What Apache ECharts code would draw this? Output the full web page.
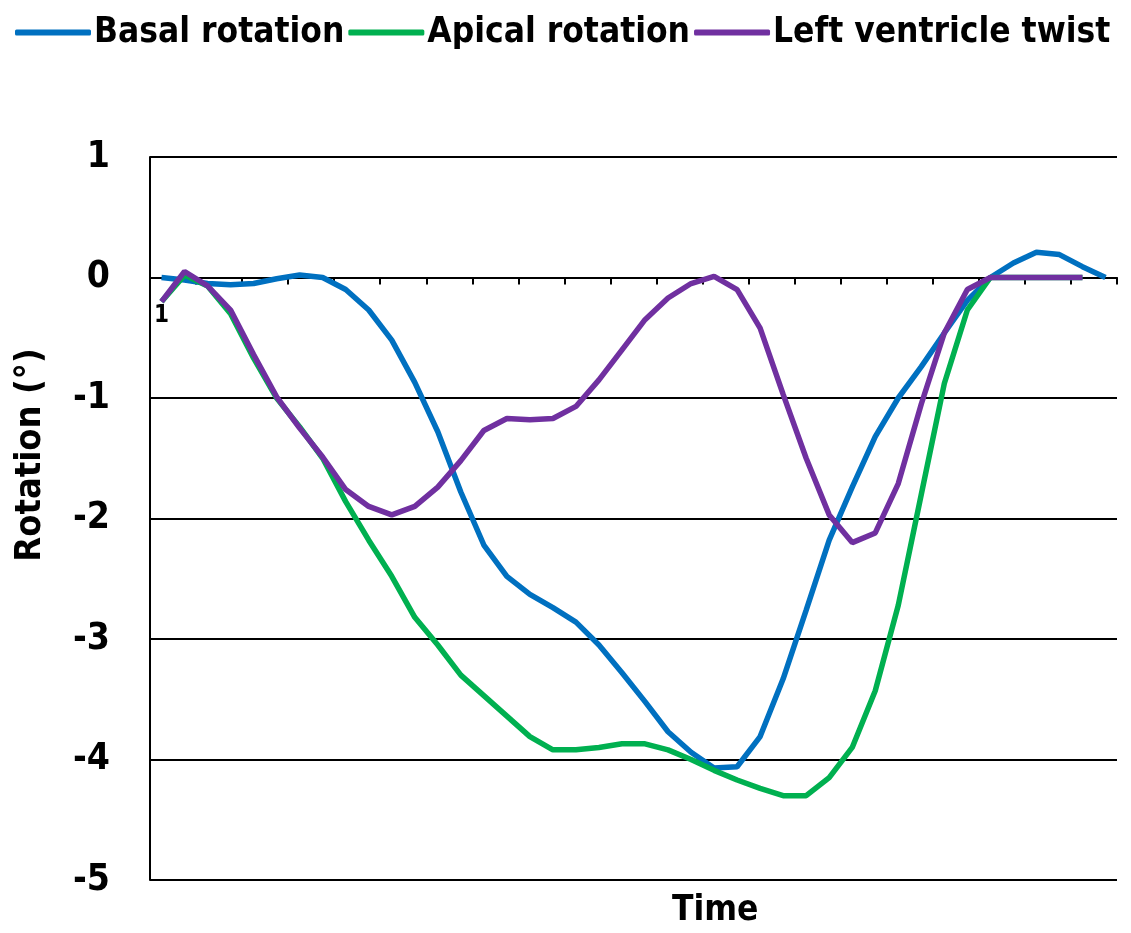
<!DOCTYPE html>
<html>
<head>
<meta charset="utf-8">
<script src="https://cdn.jsdelivr.net/npm/echarts@6/dist/echarts.min.js"></script>
<style>html,body{margin:0;padding:0;background:#fff}#c{width:1131px;height:933px}</style>
</head>
<body>
<div id="c"></div>
<script>
const categories = Array.from({length: 42}, (_, i) => String(i + 1));
const basalRotation = [0.0, -0.02, -0.05, -0.06, -0.05, -0.01, 0.02, 0.0, -0.1, -0.27, -0.52, -0.87, -1.28, -1.78, -2.22, -2.48, -2.63, -2.74, -2.86, -3.05, -3.28, -3.52, -3.77, -3.94, -4.07, -4.06, -3.81, -3.33, -2.76, -2.18, -1.74, -1.32, -1.0, -0.74, -0.46, -0.19, 0.0, 0.12, 0.21, 0.19, 0.09, 0.0];
const apicalRotation = [-0.2, 0.02, -0.07, -0.3, -0.67, -1.0, -1.24, -1.5, -1.86, -2.18, -2.48, -2.82, -3.05, -3.3, -3.47, -3.64, -3.81, -3.92, -3.92, -3.9, -3.87, -3.87, -3.92, -4.0, -4.09, -4.17, -4.24, -4.3, -4.3, -4.15, -3.9, -3.43, -2.72, -1.8, -0.88, -0.27, 0, 0, 0, 0, 0, null];
const lvTwist = [-0.2, 0.05, -0.07, -0.27, -0.64, -0.99, -1.25, -1.49, -1.76, -1.9, -1.97, -1.9, -1.74, -1.52, -1.27, -1.17, -1.18, -1.17, -1.07, -0.85, -0.6, -0.35, -0.17, -0.05, 0.01, -0.1, -0.42, -0.97, -1.5, -1.97, -2.2, -2.12, -1.71, -1.05, -0.46, -0.1, 0, 0, 0, 0, 0, null];
const yTicks = {min: -5, max: 1, interval: 1};

const FONT = '"DejaVu Sans Condensed", "DejaVu Sans", sans-serif';
const chart = echarts.init(document.getElementById('c'), null, {renderer: 'canvas'});
const mk = (name, data, color) => ({
  name, type: 'line', data, symbol: 'none', smooth: false,
  lineStyle: {color, width: 5.5}, itemStyle: {color}, animation: false
});
chart.setOption({
  animation: false,
  backgroundColor: '#fff',
  legend: {
    left: 10, top: 10, itemWidth: 76, itemHeight: 6, itemGap: 4, icon: 'roundRect',
    textStyle: {fontFamily: FONT, fontWeight: 'bold', fontSize: 35, color: '#000', padding: [0,0,0,-2]},
    data: ['Basal rotation', 'Apical rotation', 'Left ventricle twist']
  },
  grid: {left: 150, right: 14, top: 157, bottom: 53, containLabel: false},
  xAxis: [{
    type: 'category', data: categories, boundaryGap: true,
    axisLine: {onZero: true, lineStyle: {color: '#000', width: 2}},
    axisTick: {show: true, interval: 1, length: 7, lineStyle: {color: '#000', width: 2}},
    axisLabel: {show: false},
    splitLine: {show: false}
  }, {
    type: 'category', data: categories, boundaryGap: true, position: 'bottom', offset: -603,
    axisLine: {show: false}, axisTick: {show: false}, splitLine: {show: false},
    axisLabel: {interval: (i) => i === 0, margin: 27, fontFamily: FONT, fontWeight: 'bold', fontSize: 24, color: '#000'}
  }],
  yAxis: {
    type: 'value', min: yTicks.min, max: yTicks.max, interval: yTicks.interval,
    axisLine: {show: true, lineStyle: {color: '#000', width: 2}},
    axisTick: {show: false},
    axisLabel: {margin: 40, fontFamily: FONT, fontWeight: 'bold', fontSize: 37, color: '#000'},
    splitLine: {show: true, lineStyle: {color: '#000', width: 2}}
  },
  graphic: [{
    type: 'text', left: 672, top: 893,
    style: {text: 'Time', fontFamily: FONT, fontWeight: 'bold', fontSize: 35, fill: '#000'}
  }, {
    type: 'text', x: 31, y: 455, rotation: Math.PI / 2,
    style: {text: 'Rotation (°)', fontFamily: FONT, fontWeight: 'bold', fontSize: 36, fill: '#000', align: 'center', verticalAlign: 'middle'}
  }],
  series: [
    mk('Basal rotation', basalRotation, '#0070C0'),
    mk('Apical rotation', apicalRotation, '#00B050'),
    mk('Left ventricle twist', lvTwist, '#7030A0')
  ]
});
</script>
</body>
</html>
